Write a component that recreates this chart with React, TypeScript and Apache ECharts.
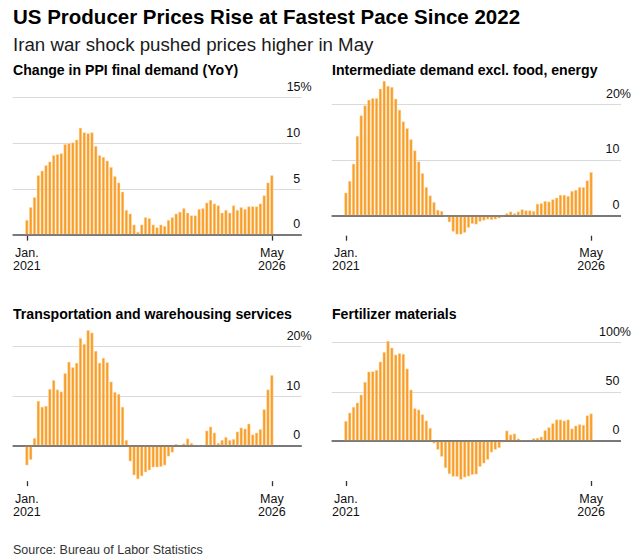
import React, { useEffect, useRef } from "react";
import * as echarts from "echarts";

const TITLE = "US Producer Prices Rise at Fastest Pace Since 2022";
const SUBTITLE = "Iran war shock pushed prices higher in May";
const SOURCE = "Source: Bureau of Labor Statistics";

// Monthly, Jan. 2021 .. May 2026 (65 months)
const xTickLabels = ["Jan.\n2021", "May\n2026"];

const panelTitles = [
  "Change in PPI final demand (YoY)",
  "Intermediate demand excl. food, energy",
  "Transportation and warehousing services",
  "Fertilizer materials",
];

const ppiFinalDemand = [
  1.6, 3.0, 4.1, 6.5, 7.0, 7.6, 8.0, 8.7, 8.8, 8.9,
  9.9, 10.0, 10.1, 10.4, 11.7, 11.2, 11.1, 11.2, 9.7, 8.7,
  8.5, 8.1, 7.4, 6.4, 5.7, 4.7, 2.7, 2.3, 1.1, 0.3,
  1.1, 1.9, 1.8, 1.1, 0.8, 1.1, 0.95, 1.6, 1.9, 2.3,
  2.5, 2.9, 2.4, 2.1, 2.1, 2.8, 2.9, 3.5, 3.8, 3.4,
  3.2, 2.4, 2.7, 2.4, 3.2, 2.7, 3.0, 2.8, 3.1, 3.1,
  3.1, 3.4, 4.3, 5.7, 6.5,
];

const intermediateExFoodEnergy = [
  4.1, 6.2, 9.3, 14.3, 18.0, 19.8, 20.8, 21.1, 21.1, 22.8,
  24.2, 23.3, 23.1, 21.0, 19.0, 16.9, 15.7, 13.7, 11.7, 9.7,
  7.6, 5.1, 3.6, 2.4, 1.0, 0.8, -0.2, -1.2, -2.9, -3.4,
  -3.4, -3.1, -2.2, -1.5, -1.6, -1.1, -0.9, -0.7, -0.8, -0.7,
  -0.5, -0.3, 0.4, 0.7, 0.4, 0.7, 1.1, 0.9, 0.9, 0.8,
  2.1, 2.2, 2.6, 2.5, 2.9, 3.2, 3.7, 3.7, 3.5, 4.4,
  4.6, 5.1, 5.1, 6.3, 7.8,
];

const transportWarehousing = [
  -4.0, -2.9, 1.5, 9.0, 7.8, 8.0, 11.4, 13.2, 11.3, 10.9,
  14.6, 16.9, 15.8, 16.7, 21.7, 20.5, 23.3, 22.8, 19.1, 16.7,
  17.7, 16.8, 12.9, 10.8, 10.4, 7.8, 1.1, -3.2, -6.0, -6.8,
  -6.2, -5.4, -5.0, -4.4, -4.4, -4.3, -4.0, -2.2, -1.4, 0.3,
  0.1, 0.4, 1.4, 0.5, 0.1, 0.05, -0.2, 3.0, 3.8, 2.6,
  0.5, 1.1, 1.7, 1.1, 1.3, 2.8, 3.6, 3.4, 4.4, 2.2,
  2.6, 3.3, 7.3, 11.3, 14.2,
];

const fertilizerMaterials = [
  20.3, 28.8, 34.6, 39.0, 47.1, 60.0, 70.5, 70.8, 72.2, 80.7,
  90.5, 101.7, 94.9, 87.8, 89.2, 88.5, 73.6, 52.2, 33.2, 31.9,
  27.1, 20.7, 13.2, -2.4, -8.8, -15.9, -27.5, -33.6, -36.3, -36.3,
  -39.3, -37.0, -36.0, -34.4, -34.0, -26.2, -22.8, -19.0, -11.6, -8.8,
  -7.1, -1.4, 10.5, 6.5, 7.5, 2.4, 1.0, 0.7, 0.3, 2.7,
  3.1, 4.4, 10.9, 13.9, 18.0, 21.8, 21.8, 20.7, 21.8, 12.6,
  15.6, 17.0, 16.3, 25.9, 27.9,
];

const yTicksPPI = [0, 5, 10, 15];
const yTicksIntermediate = [0, 10, 20];
const yTicksTransport = [0, 10, 20];
const yTicksFertilizer = [0, 50, 100];

const FONT = '"Liberation Sans", Arial, Helvetica, sans-serif';
const BAR_COLOR = "#F89E28";
const GRID_COLOR = "#DADADA";
const ZERO_COLOR = "#707070";
const TEXT_COLOR = "#111111";

const panels = [
  { title: panelTitles[0], values: ppiFinalDemand, ticks: yTicksPPI,
    grid: { left: 12.7, top: 97.7, width: 289, height: 137.9 }, min: -0.1, max: 15, titleX: 13, titleY: 69.5 },
  { title: panelTitles[1], values: intermediateExFoodEnergy, ticks: yTicksIntermediate,
    grid: { left: 331.7, top: 76.5, width: 289.3, height: 159.2 }, min: -3.63, max: 25, titleX: 332, titleY: 69.5 },
  { title: panelTitles[2], values: transportWarehousing, ticks: yTicksTransport,
    grid: { left: 12.7, top: 321.75, width: 289, height: 159.4 }, min: -7.2, max: 25, titleX: 13, titleY: 313.8 },
  { title: panelTitles[3], values: fertilizerMaterials, ticks: yTicksFertilizer,
    grid: { left: 331.7, top: 337.8, width: 289.3, height: 143.2 }, min: -40.7, max: 105, titleX: 332, titleY: 313.8 },
];

export default function App() {
  const ref = useRef<HTMLDivElement>(null);

  useEffect(() => {
    document.body.style.margin = "0";
    if (!ref.current) return;
    const chart = echarts.init(ref.current, undefined, { renderer: "svg" });

    const grids: any[] = [];
    const xAxes: any[] = [];
    const yAxes: any[] = [];
    const series: any[] = [];
    const graphics: any[] = [];

    panels.forEach((p, i) => {
      const n = p.values.length;
      const edgeTicks = [0, n - 1];
      grids.push({ ...p.grid, containLabel: false });
      xAxes.push({
        gridIndex: i,
        type: "value",
        min: -3.7,
        max: 71.8,
        axisLine: { show: true, onZero: false, lineStyle: { color: "#ffffff", opacity: 0, width: 0 } },
        splitLine: { show: false },
        axisTick: {
          show: true,
          inside: false,
          customValues: edgeTicks,
          length: 5,
          lineStyle: { color: "#333333", width: 1.3, opacity: 1 },
        },
        axisLabel: {
          show: true,
          customValues: edgeTicks,
          formatter: (v: number) => (v === 0 ? xTickLabels[0] : xTickLabels[1]),
          fontSize: 12.5,
          lineHeight: 13,
          color: TEXT_COLOR,
          fontFamily: FONT,
          margin: 11,
        },
      });
      yAxes.push({
        gridIndex: i,
        type: "value",
        min: p.min,
        max: p.max,
        show: false,
      });
      const top = p.ticks[p.ticks.length - 1];
      series.push({
        type: "bar",
        xAxisIndex: i,
        yAxisIndex: i,
        silent: true,
        barWidth: 3.1,
        itemStyle: {
          color: BAR_COLOR,
          borderColor: "rgba(255,222,178,0.95)",
          borderWidth: 0.5,
        },
        data: p.values.map((v, k) => [k, v]),
        markLine: {
          silent: true,
          z: 1,
          symbol: ["none", "none"],
          animation: false,
          data: p.ticks.map((t) => ({
            yAxis: t,
            lineStyle: {
              color: t === 0 ? ZERO_COLOR : GRID_COLOR,
              width: t === 0 ? 1.5 : 1.2,
              type: "solid",
            },
            label: {
              show: true,
              position: "insideEndTop",
              formatter: t === top ? `${t}%` : `${t}`,
              distance: t === top ? [-10, 4] : [1.5, 4],
              fontSize: 12.5,
              color: TEXT_COLOR,
              fontFamily: FONT,
            },
          })),
        },
      });
      series.push({
        type: "line",
        xAxisIndex: i,
        yAxisIndex: i,
        silent: true,
        data: [],
        markLine: {
          silent: true,
          symbol: ["none", "none"],
          animation: false,
          label: { show: false },
          lineStyle: { color: ZERO_COLOR, width: 1.5, type: "solid" },
          data: [{ yAxis: 0 }],
        },
      });
      graphics.push({
        type: "text",
        x: p.titleX,
        y: p.titleY,
        style: {
          text: p.title,
          font: `bold 14.1px ${FONT}`,
          fill: "#000",
          verticalAlign: "middle",
        },
      });
    });

    graphics.push(
      {
        type: "text",
        x: 13,
        y: 16,
        style: { text: TITLE, font: `bold 20.5px ${FONT}`, fill: "#000", verticalAlign: "middle" },
      },
      {
        type: "text",
        x: 13,
        y: 44,
        style: { text: SUBTITLE, font: `18.7px ${FONT}`, fill: "#1a1a1a", verticalAlign: "middle" },
      },
      {
        type: "text",
        x: 13,
        y: 550,
        style: { text: SOURCE, font: `12.5px ${FONT}`, fill: "#333", verticalAlign: "middle" },
      }
    );

    chart.setOption({
      animation: false,
      backgroundColor: "#ffffff",
      grid: grids,
      xAxis: xAxes,
      yAxis: yAxes,
      series,
      graphic: graphics,
    });

    return () => chart.dispose();
  }, []);

  return <div ref={ref} style={{ width: 641, height: 560 }} />;
}
